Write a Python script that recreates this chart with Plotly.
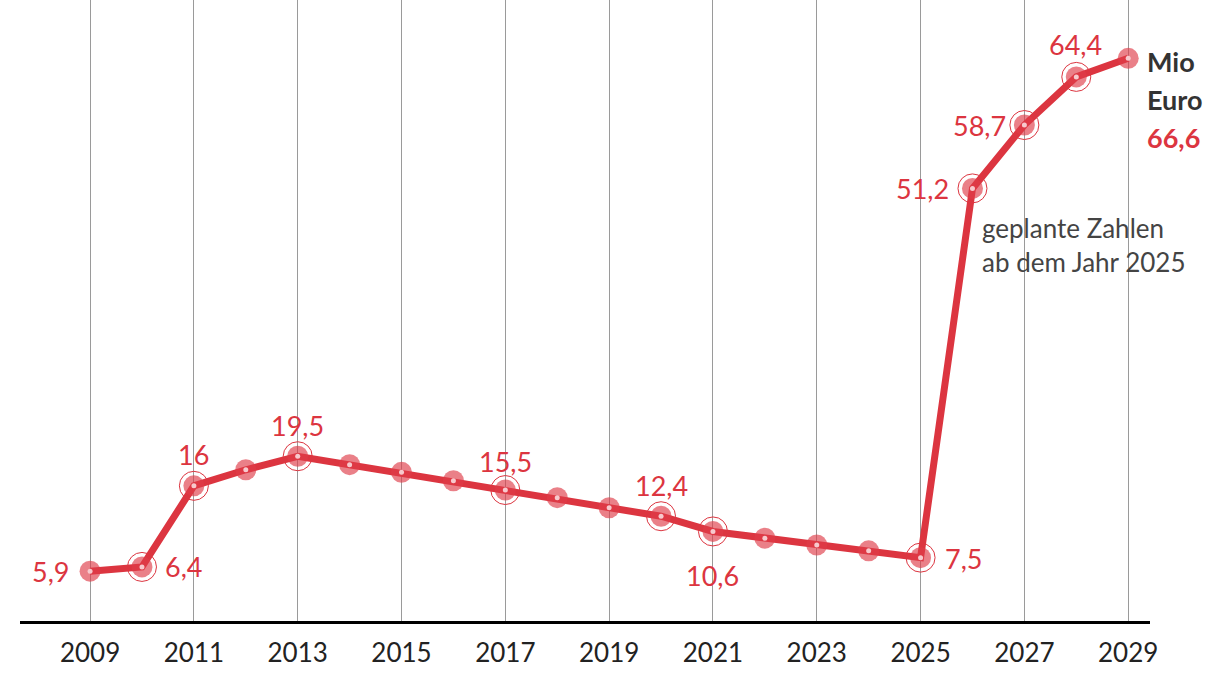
import plotly.graph_objects as go

# ---- data ----
years = list(range(2009, 2030))
values = [5.9, 6.4, 16.0, 17.9, 19.5, 18.5, 17.6, 16.6, 15.5, 14.6, 13.4,
          12.4, 10.6, 9.8, 9.0, 8.3, 7.5, 51.2, 58.7, 64.4, 66.6]
ringed_years = [2010, 2011, 2013, 2017, 2020, 2021, 2025, 2026, 2027, 2028]
labeled_years = [2009, 2010, 2011, 2013, 2017, 2020, 2021, 2025, 2026, 2027, 2028]
unit_lines = ["Mio", "Euro"]
note_text = "geplante Zahlen<br>ab dem Jahr 2025"

# label placement: pixel offset of label centre from its point (dx right, dy up)
label_offset = {2009: (-40, 0), 2010: (42, 0), 2011: (0, 31), 2013: (0, 31),
                2017: (0, 29), 2020: (0, 31), 2021: (0, -44), 2025: (43, -1),
                2026: (-50, 0), 2027: (-45, 0), 2028: (-1, 32)}

RED = "#dc3540"
FONT = "Lato, 'Noto Sans', sans-serif"

def fmt(v):
    return ("%g" % v).replace(".", ",")

val = dict(zip(years, values))

fig = go.Figure()
fig.add_trace(go.Scatter(
    x=years, y=values, mode="lines+markers",
    line=dict(color=RED, width=7),
    marker=dict(size=21, color="rgba(222,60,72,0.65)", line=dict(width=0)),
    hoverinfo="skip", showlegend=False))
fig.add_trace(go.Scatter(
    x=ringed_years, y=[val[y] for y in ringed_years], mode="markers",
    marker=dict(size=29, symbol="circle-open", color=RED, line=dict(width=1, color=RED)),
    hoverinfo="skip", showlegend=False))
fig.add_trace(go.Scatter(
    x=years, y=values, mode="markers",
    marker=dict(size=5, color="#f7c9cd", line=dict(width=0)),
    hoverinfo="skip", showlegend=False))

anns = []
for y in labeled_years:
    dx, dy = label_offset[y]
    anns.append(dict(x=y, y=val[y], xref="x", yref="y", text=fmt(val[y]), showarrow=False,
                     xanchor="center", yanchor="middle", xshift=dx, yshift=dy,
                     font=dict(family=FONT, size=27, color=RED)))

for i, t in enumerate(unit_lines):
    anns.append(dict(x=years[-1], y=values[-1], xref="x", yref="y", text="<b>" + t + "</b>",
                     showarrow=False, xanchor="left", yanchor="middle", xshift=17,
                     yshift=-3 - 38 * i, font=dict(family=FONT, size=27, color="#333333")))
anns.append(dict(x=years[-1], y=values[-1], xref="x", yref="y", text="<b>" + fmt(values[-1]) + "</b>",
                 showarrow=False, xanchor="left", yanchor="middle", xshift=17, yshift=-79,
                 font=dict(family=FONT, size=27, color=RED)))
anns.append(dict(x=2026, y=val[2026], xref="x", yref="y", text=note_text,
                 showarrow=False, xanchor="left", yanchor="middle", xshift=8, yshift=-57,
                 align="left", font=dict(family=FONT, size=26, color="#444444")))

fig.update_layout(
    width=1220, height=682,
    margin=dict(l=20, r=70, t=0, b=61),
    paper_bgcolor="white", plot_bgcolor="white",
    annotations=anns,
    hovermode=False,
    xaxis=dict(range=[2007.65, 2029.42], tickmode="linear", tick0=2009, dtick=2,
               showgrid=True, gridcolor="#9a9a9a", gridwidth=1,
               showline=True, linecolor="black", linewidth=3,
               ticks="", ticklabelstandoff=7,
               tickfont=dict(family=FONT, size=26, color="#222222"),
               zeroline=False, fixedrange=True),
    yaxis=dict(range=[0, 73.5], visible=False, showgrid=False, zeroline=False,
               fixedrange=True),
)

fig.write_html("out.html", config={"displayModeBar": False, "staticPlot": True},
               post_script="document.body.style.margin='0px';")
